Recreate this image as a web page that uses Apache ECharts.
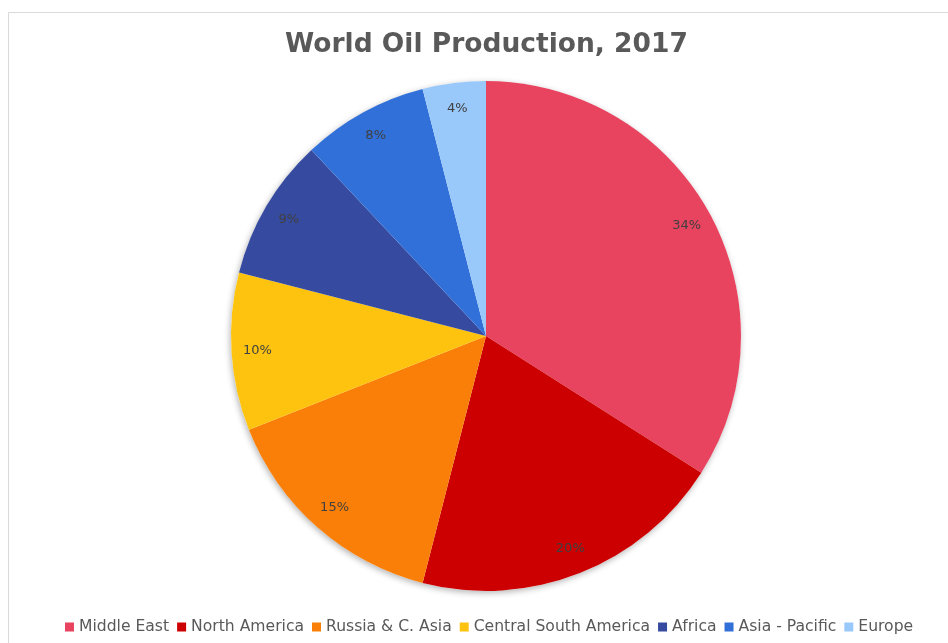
<!DOCTYPE html>
<html>
<head>
<meta charset="utf-8">
<script src="https://cdn.jsdelivr.net/npm/echarts@6/dist/echarts.min.js"></script>
<style>
  html, body { margin: 0; padding: 0; background: #fff; }
  #chart { width: 948px; height: 643px; }
</style>
</head>
<body>
<div id="chart"></div>
<script>
// Share of world oil production by region, 2017 (percent)
const regions = ['Middle East', 'North America', 'Russia & C. Asia', 'Central South America', 'Africa', 'Asia - Pacific', 'Europe'];
const shares = [34, 20, 15, 10, 9, 8, 4];
const colors = ['#E8435F', '#CC0000', '#F97F08', '#FDC30F', '#364B9F', '#3070D8', '#99C8FB'];

const pieData = regions.map((name, i) => ({ name, value: shares[i], itemStyle: { color: colors[i] } }));
const PIE_CENTER = [486, 336];
const PIE_RADIUS = 255;

const chart = echarts.init(document.getElementById('chart'));
chart.setOption({
  animation: false,
  backgroundColor: '#ffffff',
  title: {
    text: 'World Oil Production, 2017',
    left: 280,
    top: 27,
    textStyle: { fontFamily: 'DejaVu Sans', fontSize: 26.5, fontWeight: 'bold', color: '#595959' }
  },
  legend: {
    bottom: 3,
    left: 60,
    icon: 'rect',
    itemWidth: 9,
    itemHeight: 9,
    itemGap: 8,
    textStyle: { fontFamily: 'DejaVu Sans', fontSize: 15.6, color: '#595959' },
    data: regions
  },
  graphic: [{
    type: 'rect',
    left: 6, top: 10,
    shape: { width: 980, height: 700 },
    style: { fill: 'none', stroke: '#d9d9d9', lineWidth: 1 },
    z: -10
  }],
  series: [
    {
      // soft drop shadow behind the whole disc
      type: 'pie',
      center: PIE_CENTER,
      radius: [0, PIE_RADIUS],
      silent: true,
      z: 1,
      label: { show: false },
      labelLine: { show: false },
      itemStyle: { color: '#ffffff', shadowBlur: 6, shadowColor: 'rgba(0,0,0,0.3)', shadowOffsetX: -1, shadowOffsetY: 2 },
      data: [{ name: '', value: 1 }]
    },
    {
      // filled slices
      type: 'pie',
      center: PIE_CENTER,
      radius: [0, PIE_RADIUS],
      startAngle: 90,
      clockwise: true,
      silent: true,
      z: 2,
      label: { show: false },
      labelLine: { show: false },
      data: pieData
    },
    {
      // percentage labels placed near the rim
      type: 'pie',
      center: PIE_CENTER,
      radius: [197, PIE_RADIUS],
      startAngle: 90,
      clockwise: true,
      silent: true,
      z: 3,
      label: {
        show: true,
        position: 'inside',
        formatter: p => p.value + '%',
        fontFamily: 'DejaVu Sans',
        fontSize: 13,
        color: '#404040'
      },
      labelLine: { show: false },
      data: regions.map((name, i) => ({ name, value: shares[i], itemStyle: { color: 'rgba(0,0,0,0)' } }))
    }
  ]
});
</script>
</body>
</html>
